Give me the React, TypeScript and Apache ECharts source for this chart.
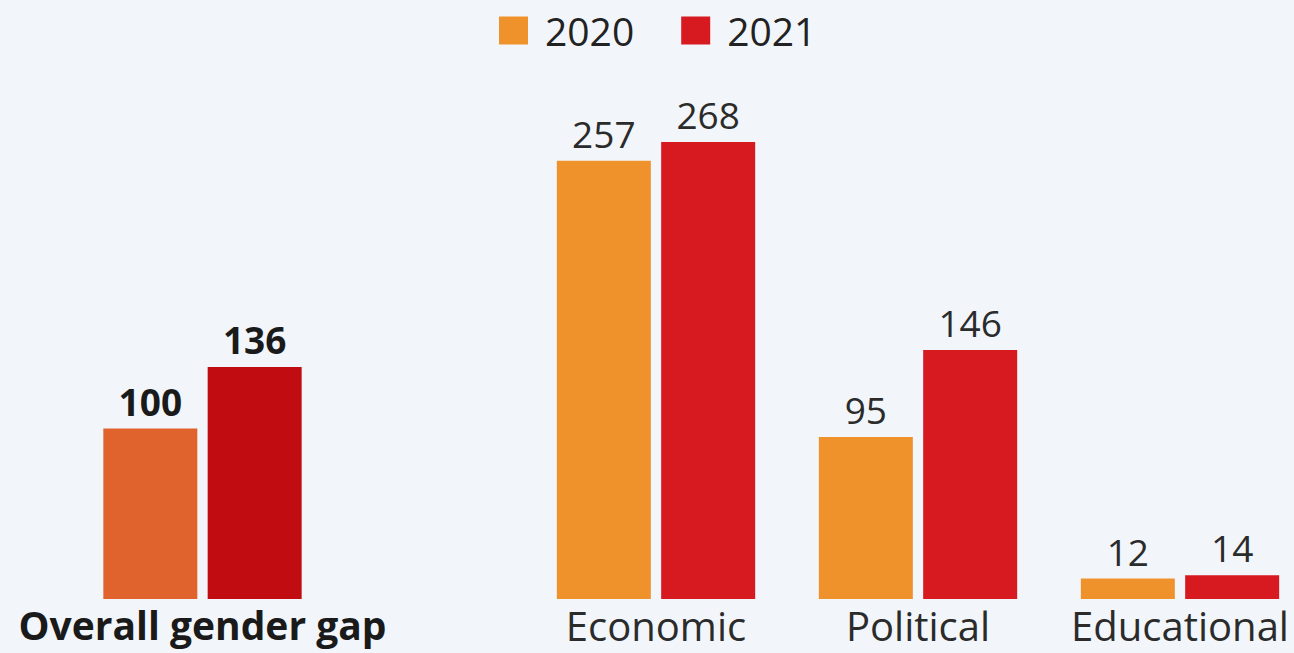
import React, { useEffect, useRef } from "react";
import * as echarts from "echarts";

const overallCategory = ["Overall gender gap"];
const overall2020 = [100];
const overall2021 = [136];
const mainCategories = ["Economic", "Political", "Educational"];
const main2020 = [257, 95, 12];
const main2021 = [268, 146, 14];
const seriesNames = ["2020", "2021"];

const FONT = "'Open Sans', 'Noto Sans', sans-serif";

export default function App() {
  const ref = useRef<HTMLDivElement>(null);
  useEffect(() => {
    if (!ref.current) return;
    const chart = echarts.init(ref.current, null, { renderer: "svg" });
    const barWidth = 94;
    const barGap = "11%";
    const normalLabel = {
      show: true,
      position: "top",
      distance: 9,
      fontFamily: FONT,
      fontSize: 37,
      color: "#2b2b2b",
    };
    const boldLabel = { ...normalLabel, fontWeight: "bold", color: "#1a1a1a" };
    chart.setOption({
      animation: false,
      backgroundColor: "#f2f6fa",
      legend: {
        top: 6,
        left: 494,
        data: seriesNames,
        itemWidth: 29,
        itemHeight: 28,
        itemGap: 47,
        icon: "rect",
        textStyle: {
          fontFamily: FONT,
          fontSize: 39,
          color: "#222",
          padding: [0, 0, 0, 12],
        },
      },
      grid: [
        { left: 103, width: 199, top: 87.5, height: 511.5 },
        { left: 525, width: 786, top: 87.5, height: 511.5 },
      ],
      xAxis: [
        {
          type: "category",
          gridIndex: 0,
          data: overallCategory,
          axisLine: { show: false },
          axisTick: { show: false },
          axisLabel: {
            interval: 0,
            hideOverlap: false,
            margin: 6,
            fontFamily: FONT,
            fontSize: 39,
            fontWeight: "bold",
            color: "#1a1a1a",
          },
        },
        {
          type: "category",
          gridIndex: 1,
          data: mainCategories,
          axisLine: { show: false },
          axisTick: { show: false },
          axisLabel: {
            interval: 0,
            hideOverlap: false,
            margin: 6,
            fontFamily: FONT,
            fontSize: 40,
            color: "#2b2b2b",
          },
        },
      ],
      yAxis: [
        { type: "value", gridIndex: 0, min: 0, max: 300, show: false },
        { type: "value", gridIndex: 1, min: 0, max: 300, show: false },
      ],
      series: [
        {
          name: seriesNames[0],
          type: "bar",
          xAxisIndex: 0,
          yAxisIndex: 0,
          barWidth,
          barGap,
          itemStyle: { color: "#f0922b" },
          label: boldLabel,
          data: overall2020.map((v) => ({ value: v, itemStyle: { color: "#e0632d" } })),
        },
        {
          name: seriesNames[1],
          type: "bar",
          xAxisIndex: 0,
          yAxisIndex: 0,
          barWidth,
          barGap,
          itemStyle: { color: "#d71920" },
          label: boldLabel,
          data: overall2021.map((v) => ({ value: v, itemStyle: { color: "#c10c11" } })),
        },
        {
          name: seriesNames[0],
          type: "bar",
          xAxisIndex: 1,
          yAxisIndex: 1,
          barWidth,
          barGap,
          itemStyle: { color: "#f0922b" },
          label: normalLabel,
          data: main2020,
        },
        {
          name: seriesNames[1],
          type: "bar",
          xAxisIndex: 1,
          yAxisIndex: 1,
          barWidth,
          barGap,
          itemStyle: { color: "#d71920" },
          label: normalLabel,
          data: main2021,
        },
      ],
    });
    return () => chart.dispose();
  }, []);
  return (
    <div
      style={{
        position: "absolute",
        left: 0,
        top: 0,
        width: 1294,
        height: 653,
        overflow: "hidden",
        background: "#f2f6fa",
      }}
    >
      <div ref={ref} style={{ width: 1320, height: 653 }} />
    </div>
  );
}
